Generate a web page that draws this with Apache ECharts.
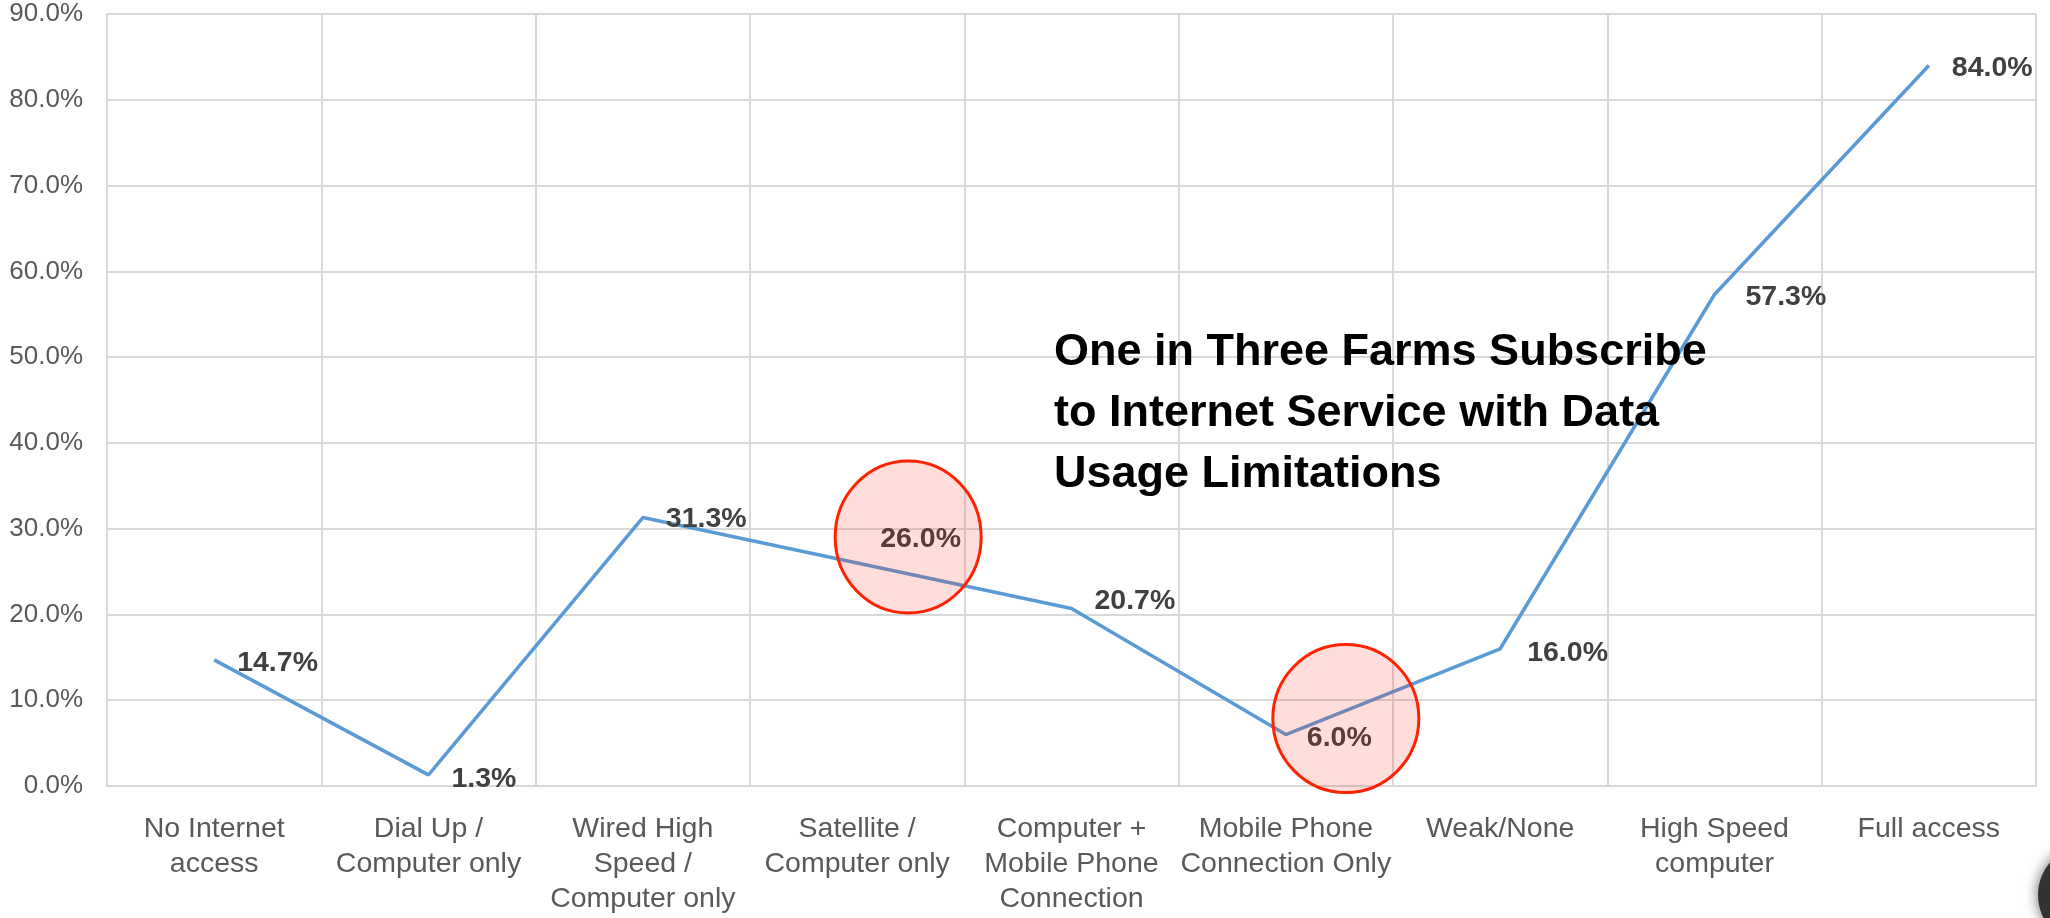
<!DOCTYPE html>
<html><head><meta charset="utf-8">
<script src="https://cdn.jsdelivr.net/npm/echarts@6/dist/echarts.min.js"></script>
<style>html,body{margin:0;padding:0;background:#fff;}#c{width:2050px;height:918px;}</style>
</head><body><div id="c"></div>
<script>
var categories = ['No Internet\naccess','Dial Up /\nComputer only','Wired High\nSpeed /\nComputer only','Satellite /\nComputer only','Computer +\nMobile Phone\nConnection','Mobile Phone\nConnection Only','Weak/None','High Speed\ncomputer','Full access'];
var values = [14.7, 1.3, 31.3, 26.0, 20.7, 6.0, 16.0, 57.3, 84.0];
var yTicks = {min: 0, max: 90, interval: 10};
var highlighted = [3, 5];
var annotation = 'One in Three Farms Subscribe\nto Internet Service with Data\nUsage Limitations';

var FONT = 'Liberation Sans';
var labelOffsets = {0: [0, 3], 1: [0, 4], 2: [0, 2], 3: [0, -24], 4: [0, -7], 5: [-2, 4], 6: [4, 4], 7: [8, 3], 8: [0, 3]};
var chart = echarts.init(document.getElementById('c'));
chart.setOption({
  animation: false,
  grid: {left: 107, right: 14, top: 14, bottom: 132},
  xAxis: {
    type: 'category', data: categories, boundaryGap: true,
    axisLine: {show: true, lineStyle: {color: '#d9d9d9', width: 2}},
    axisTick: {show: false},
    splitLine: {show: true, lineStyle: {color: '#d9d9d9', width: 2}},
    axisLabel: {color: '#595959', fontFamily: FONT, fontSize: 28.5, lineHeight: 35, margin: 26, interval: 0}
  },
  yAxis: {
    type: 'value', min: yTicks.min, max: yTicks.max, interval: yTicks.interval,
    axisLine: {show: true, lineStyle: {color: '#d9d9d9', width: 2}},
    axisTick: {show: false},
    splitLine: {show: true, lineStyle: {color: '#d9d9d9', width: 2}},
    axisLabel: {color: '#595959', fontFamily: FONT, fontSize: 26, margin: 24, formatter: function(v){return v.toFixed(1) + '%';}}
  },
  series: [{
    type: 'line',
    data: values.map(function(v, i){
      var d = {value: v};
      if (labelOffsets[i]) d.label = {offset: labelOffsets[i]};
      return d;
    }),
    symbol: 'circle', symbolSize: 2, showSymbol: true,
    itemStyle: {color: 'rgba(0,0,0,0)'},
    lineStyle: {color: '#5b9bd5', width: 3.5},
    label: {show: true, position: 'right', distance: 22, color: '#404040', fontFamily: FONT, fontWeight: 'bold', fontSize: 28.5,
      formatter: function(p){return p.value.toFixed(1) + '%';}}
  }]
});

var circleSpec = {3: {dx: 51, dy: -26, rx: 73, ry: 76}, 5: {dx: 60, dy: -16, rx: 73, ry: 74}};
var graphics = highlighted.map(function(i){
  var p = chart.convertToPixel({gridIndex: 0}, [i, values[i]]);
  var s = circleSpec[i];
  return {type: 'ellipse', z: 100, shape: {cx: p[0] + s.dx, cy: p[1] + s.dy, rx: s.rx, ry: s.ry},
    style: {fill: 'rgba(255,30,10,0.15)', stroke: '#ff2200', lineWidth: 3}};
});
graphics.push({type: 'text', z: 101, left: 1054, top: 322,
  style: {text: annotation, fill: '#000', font: 'bold 45px "Liberation Sans"', lineHeight: 61}});
graphics.push({type: 'circle', z: 101, shape: {cx: 2088, cy: 895, r: 50},
  style: {fill: '#333', shadowBlur: 14, shadowColor: 'rgba(0,0,0,0.6)'}});
chart.setOption({graphic: graphics});
</script>
</body></html>
